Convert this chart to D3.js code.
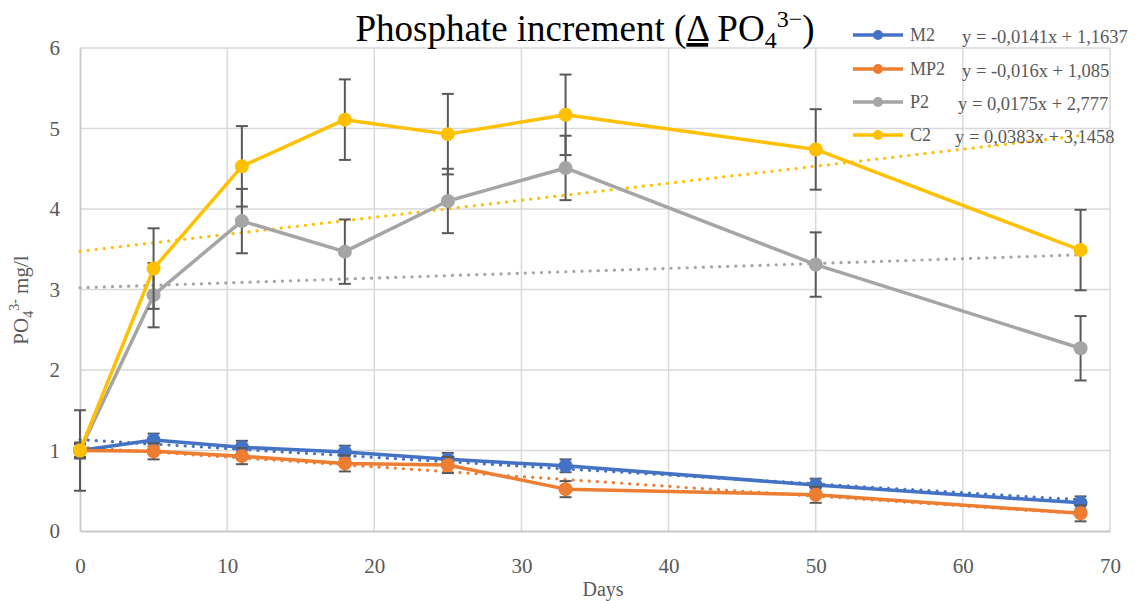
<!DOCTYPE html>
<html>
<head>
<meta charset="utf-8">
<script src="https://cdnjs.cloudflare.com/ajax/libs/d3/7.8.5/d3.min.js"></script>
<style>
  body { margin: 0; background: #fff; }
  svg { display: block; }
</style>
</head>
<body>
<svg id="chart"></svg>
<script>
// data
const days = [0, 5, 11, 18, 25, 33, 50, 68];
const seriesNames = ["M2", "MP2", "P2", "C2"];
const m2Values  = [1.00, 1.13, 1.04, 0.98, 0.89, 0.81, 0.57, 0.35];
const mp2Values = [1.00, 0.99, 0.93, 0.84, 0.82, 0.52, 0.45, 0.22];
const p2Values  = [1.00, 2.93, 3.85, 3.47, 4.10, 4.51, 3.31, 2.27];
const c2Values  = [1.00, 3.26, 4.53, 5.11, 4.93, 5.17, 4.74, 3.49];
const m2Errors  = [0.08, 0.08, 0.08, 0.08, 0.08, 0.08, 0.08, 0.08];
const mp2Errors = [0.10, 0.10, 0.10, 0.10, 0.10, 0.10, 0.10, 0.10];
const p2Errors  = [0.00, 0.40, 0.40, 0.40, 0.40, 0.40, 0.40, 0.40];
const c2Errors  = [0.50, 0.50, 0.50, 0.50, 0.50, 0.50, 0.50, 0.50];
const equations = ["y = -0,0141x + 1,1637", "y = -0,016x + 1,085", "y = 0,0175x + 2,777", "y = 0,0383x + 3,1458"];
const xTicks = [0, 10, 20, 30, 40, 50, 60, 70];
const yTicks = [0, 1, 2, 3, 4, 5, 6];

const colors = ["#4472C4", "#ED7D31", "#A5A5A5", "#FFC000"];
const allValues = [m2Values, mp2Values, p2Values, c2Values];
const allErrors = [m2Errors, mp2Errors, p2Errors, c2Errors];

const series = seriesNames.map((name, i) => ({
  name,
  color: colors[i],
  equation: equations[i],
  points: days.map((d, j) => ({ day: d, value: allValues[i][j], err: allErrors[i][j] }))
}));

const width = 1135, height = 601;
const margin = { top: 48, right: 25, bottom: 70, left: 80 };
const serif = "'Liberation Serif', 'Times New Roman', Times, serif";

const svg = d3.select("#chart").attr("width", width).attr("height", height);

const x = d3.scaleLinear().domain([0, 70]).range([margin.left, width - margin.right]);
const y = d3.scaleLinear().domain([0, 6]).range([height - margin.bottom, margin.top]);

// gridlines
svg.append("g")
  .selectAll("line")
  .data(yTicks.filter(d => d > 0))
  .join("line")
  .attr("x1", x(0)).attr("x2", x(70))
  .attr("y1", d => y(d)).attr("y2", d => y(d))
  .attr("stroke", "#d9d9d9").attr("stroke-width", 1.5);

svg.append("g")
  .selectAll("line")
  .data(xTicks.filter(d => d > 0))
  .join("line")
  .attr("x1", d => x(d)).attr("x2", d => x(d))
  .attr("y1", y(0)).attr("y2", y(6))
  .attr("stroke", "#d9d9d9").attr("stroke-width", 1.5);

// axes
const xAxis = svg.append("g")
  .attr("transform", `translate(0,${y(0)})`)
  .call(d3.axisBottom(x).tickValues(xTicks).tickFormat(d3.format("d")).tickSize(0).tickPadding(27));
const yAxis = svg.append("g")
  .attr("transform", `translate(${x(0)},0)`)
  .call(d3.axisLeft(y).tickValues(yTicks).tickFormat(d3.format("d")).tickSize(0).tickPadding(20));
[xAxis, yAxis].forEach(a => {
  a.select(".domain").attr("stroke", "#c8c8c8").attr("stroke-width", 1.8);
  a.selectAll("text").attr("font-family", serif).attr("font-size", 21).attr("fill", "#595959");
});

// linear trendlines fitted to each series
const trend = svg.append("g");
series.forEach(s => {
  const mx = d3.mean(s.points, p => p.day);
  const my = d3.mean(s.points, p => p.value);
  const slope = d3.sum(s.points, p => (p.day - mx) * (p.value - my)) /
                d3.sum(s.points, p => (p.day - mx) ** 2);
  const icpt = my - slope * mx;
  const ext = d3.extent(days);
  trend.append("line")
    .attr("x1", x(ext[0])).attr("y1", y(icpt + slope * ext[0]))
    .attr("x2", x(ext[1])).attr("y2", y(icpt + slope * ext[1]))
    .attr("stroke", s.color).attr("stroke-width", 3.2)
    .attr("stroke-linecap", "round")
    .attr("stroke-dasharray", "0.1 8");
});

const line = d3.line().x(p => x(p.day)).y(p => y(p.value));

series.forEach(s => {
  const g = svg.append("g");
  g.append("path")
    .datum(s.points)
    .attr("d", line)
    .attr("fill", "none")
    .attr("stroke", s.color)
    .attr("stroke-width", 3.5)
    .attr("stroke-linejoin", "round");

  const eb = g.append("g").attr("stroke", "#595959").attr("stroke-width", 2);
  s.points.filter(p => p.err > 0).forEach(p => {
    const cx = x(p.day);
    eb.append("line").attr("x1", cx).attr("x2", cx).attr("y1", y(p.value - p.err)).attr("y2", y(p.value + p.err));
    [p.value - p.err, p.value + p.err].forEach(v => {
      eb.append("line").attr("x1", cx - 6).attr("x2", cx + 6).attr("y1", y(v)).attr("y2", y(v));
    });
  });

  g.selectAll("circle")
    .data(s.points)
    .join("circle")
    .attr("cx", p => x(p.day))
    .attr("cy", p => y(p.value))
    .attr("r", 7)
    .attr("fill", s.color);
});

// title
const title = svg.append("text")
  .attr("x", 585).attr("y", 41)
  .attr("text-anchor", "middle")
  .attr("font-family", serif).attr("font-size", 37).attr("fill", "#000");
title.append("tspan").text("Phosphate increment (");
title.append("tspan").text("Δ").attr("text-decoration", "underline");
title.append("tspan").text(" PO");
title.append("tspan").text("4").attr("font-size", 24).attr("dy", 7);
title.append("tspan").text("3−").attr("font-size", 24).attr("dy", -21);
title.append("tspan").text(")").attr("dy", 14);

// axis titles
const yt = svg.append("text")
  .attr("transform", "translate(28,300) rotate(-90)")
  .attr("text-anchor", "middle")
  .attr("font-family", serif).attr("font-size", 21).attr("fill", "#595959");
yt.append("tspan").text("PO");
yt.append("tspan").text("4").attr("font-size", 14).attr("dy", 5);
yt.append("tspan").text("3-").attr("font-size", 14).attr("dy", -14);
yt.append("tspan").text(" mg/l").attr("dy", 9);

svg.append("text")
  .attr("x", x(35) + 8).attr("y", 596)
  .attr("text-anchor", "middle")
  .attr("font-family", serif).attr("font-size", 20).attr("fill", "#595959")
  .text("Days");

// legend + trendline equations
const rowY = [35, 69, 102, 135];
const eqX = [962, 962, 958, 955];
series.forEach((s, i) => {
  const lg = svg.append("g").attr("transform", `translate(853,${rowY[i]})`);
  lg.append("line").attr("x1", 0).attr("x2", 50).attr("stroke", s.color).attr("stroke-width", 3.5);
  lg.append("circle").attr("cx", 25).attr("r", 5).attr("fill", s.color);
  lg.append("text").attr("x", 57).attr("dy", "0.35em")
    .attr("font-family", serif).attr("font-size", 18).attr("fill", "#595959")
    .text(s.name);
  svg.append("text")
    .attr("x", eqX[i]).attr("y", rowY[i] + 2).attr("dy", "0.35em")
    .attr("font-family", serif).attr("font-size", 18.5).attr("fill", "#595959")
    .text(s.equation);
});
</script>
</body>
</html>
